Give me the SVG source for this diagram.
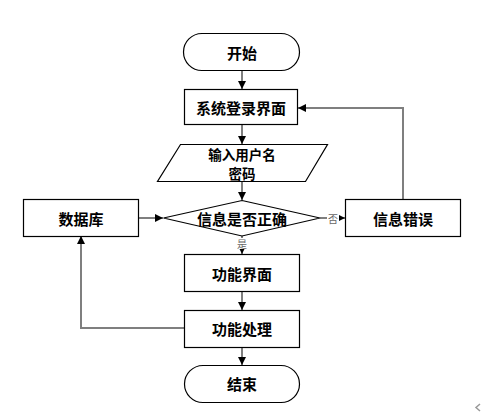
<svg xmlns="http://www.w3.org/2000/svg" width="482" height="416" viewBox="0 0 482 416">
<style>
.n{fill:#fff;stroke:#000;stroke-width:1.2}
.t{font-family:"Noto Sans CJK SC","Noto Sans CJK JP",sans-serif;font-size:15px;font-weight:bold;fill:#000;text-anchor:middle;dominant-baseline:central}
.s{font-size:13.5px}
.c{fill:none;stroke:#7f7f7f;stroke-width:2}
.l{font-family:"Noto Sans CJK SC",sans-serif;font-size:10px;fill:#666;text-anchor:middle;dominant-baseline:central}
</style>
<defs>
<marker id="a" viewBox="0 0 10 10" refX="10" refY="5" markerWidth="8" markerHeight="8" markerUnits="userSpaceOnUse" orient="auto">
<path d="M0,0 L10,5 L0,10 z" fill="#000"/>
</marker>
</defs>
<rect width="482" height="416" fill="#fff"/>
<g id="connectors">
<path class="c" d="M242,71 V89" marker-end="url(#a)"/>
<path class="c" d="M242,124 V144" marker-end="url(#a)"/>
<path class="c" d="M242,181 V200" marker-end="url(#a)"/>
<path class="c" d="M242,236 V254" marker-end="url(#a)"/>
<path class="c" d="M242,292 V310" marker-end="url(#a)"/>
<path class="c" d="M242,347 V365" marker-end="url(#a)"/>
<path class="c" d="M138,218 H163" marker-end="url(#a)"/>
<path class="c" d="M320,218 H345" marker-end="url(#a)"/>
<path class="c" d="M403,199 V108 H298" marker-end="url(#a)"/>
<path class="c" d="M184,328 H81 V236" marker-end="url(#a)"/>
<rect x="235" y="238" width="14" height="11" fill="#fff"/>
<text class="l" x="242" y="243">是</text>
<rect x="327" y="212" width="12" height="12" fill="#fff"/>
<text class="l" x="333" y="218">否</text>
</g>
<g id="start">
<rect class="n" x="183.5" y="33.5" width="116" height="37" rx="18.5"/>
<text class="t" x="242" y="52">开始</text>
</g>
<g id="login">
<rect class="n" x="184.5" y="89.5" width="113" height="35"/>
<text class="t" x="241" y="107">系统登录界面</text>
</g>
<g id="input">
<polygon class="n" points="180.5,144.5 327.5,144.5 305.5,181.5 157.5,181.5"/>
<text class="t s" x="242" y="154">输入用户名</text>
<text class="t s" x="242" y="173">密码</text>
</g>
<g id="check">
<polygon class="n" points="242,200.5 320,218 242,236 163.5,218"/>
<text class="t" x="242" y="218">信息是否正确</text>
</g>
<g id="db">
<rect class="n" x="23.5" y="199.5" width="115" height="37"/>
<text class="t" x="81" y="218">数据库</text>
</g>
<g id="error">
<rect class="n" x="345.5" y="199.5" width="115" height="37"/>
<text class="t" x="403" y="218">信息错误</text>
</g>
<g id="func">
<rect class="n" x="184.5" y="254.5" width="115" height="37"/>
<text class="t" x="242" y="273">功能界面</text>
</g>
<g id="proc">
<rect class="n" x="184.5" y="310.5" width="115" height="37"/>
<text class="t" x="242" y="328">功能处理</text>
</g>
<g id="end">
<rect class="n" x="184.5" y="365.5" width="115" height="37" rx="18.5"/>
<text class="t" x="242" y="383">结束</text>
</g>
<path d="M480,404 L476,407.5 L480,411" fill="none" stroke="#999" stroke-width="1.5"/>
</svg>
